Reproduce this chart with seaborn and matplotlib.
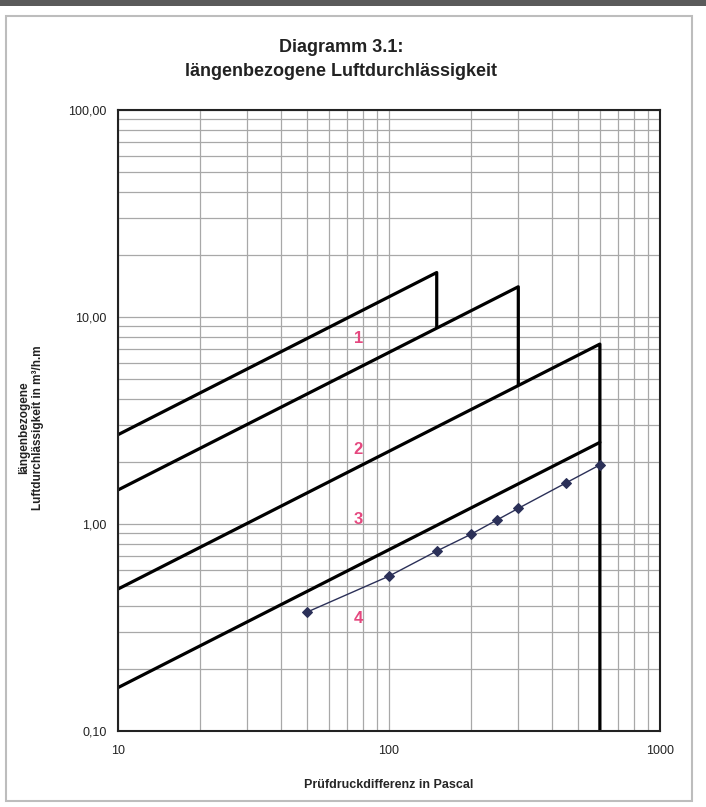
import matplotlib
matplotlib.use("Agg")
import matplotlib.pyplot as plt
import matplotlib.ticker as mticker
from matplotlib.patches import Rectangle
import numpy as np
import pandas as pd
import seaborn as sns

sns.set_theme(style="white")
plt.rcParams["font.family"] = ["Liberation Sans", "DejaVu Sans"]

# class boundary lines (endpoints)
class_names = ["1", "2", "3", "4"]
class_x = [[10, 150, 150], [10, 300, 300], [10, 600, 600], [10, 600]]
class_y = [[2.7, 16.4, 8.9], [1.46, 14.0, 4.7], [0.485, 7.4, 0.1], [0.162, 2.48]]

# class label positions
label_x = [77, 77, 77, 77]
label_y = [7.9, 2.28, 1.05, 0.35]

# measured series
pressure = [50, 100, 150, 200, 250, 300, 450, 600]
leakage = [0.376, 0.56, 0.74, 0.89, 1.045, 1.19, 1.58, 1.93]

y_ticks = [0.1, 1, 10, 100]
y_ticklabels = ["0,10", "1,00", "10,00", "100,00"]
x_ticks = [10, 100, 1000]
x_ticklabels = ["10", "100", "1000"]

rows = []
for name, xs, ys in zip(class_names, class_x, class_y):
    for i, (x, y) in enumerate(zip(xs, ys)):
        rows.append({"cls": name, "order": i, "x": x, "y": y})
df_cls = pd.DataFrame(rows)
df_meas = pd.DataFrame({"x": pressure, "y": leakage})

fig = plt.figure(figsize=(7.06, 8.07), dpi=100)
ax = fig.add_axes([118 / 706, 1 - 731 / 807, 542 / 706, 621 / 807])

ax.set_xscale("log")
ax.set_yscale("log")
ax.set_xlim(10, 1000)
ax.set_ylim(0.1, 100)

ax.grid(True, which="both", color="#a8a8a8", linewidth=0.9)
ax.set_axisbelow(True)

sns.lineplot(data=df_cls, x="x", y="y", hue="cls", units="cls", estimator=None,
             sort=False, palette=["black"] * 4, linewidth=2.3, legend=False, ax=ax)
sns.lineplot(data=df_meas, x="x", y="y", color="#2b3058", linewidth=1.0,
             marker="D", markersize=5, markeredgecolor="#2b3058", legend=False, ax=ax)

for name, lx, ly in zip(class_names, label_x, label_y):
    ax.text(lx, ly, name, color="#e5487f", fontsize=12, fontweight="bold",
            ha="center", va="center")

ax.xaxis.set_major_locator(mticker.FixedLocator(x_ticks))
ax.xaxis.set_major_formatter(mticker.FixedFormatter(x_ticklabels))
ax.yaxis.set_major_locator(mticker.FixedLocator(y_ticks))
ax.yaxis.set_major_formatter(mticker.FixedFormatter(y_ticklabels))
ax.xaxis.set_minor_locator(mticker.LogLocator(base=10, subs=np.arange(2, 10)))
ax.yaxis.set_minor_locator(mticker.LogLocator(base=10, subs=np.arange(2, 10)))
ax.xaxis.set_minor_formatter(mticker.NullFormatter())
ax.yaxis.set_minor_formatter(mticker.NullFormatter())
ax.tick_params(axis="both", which="both", length=0, labelsize=9, colors="#222222")
ax.tick_params(axis="x", pad=10)
ax.tick_params(axis="y", pad=8)

for sp in ax.spines.values():
    sp.set_color("#222222")
    sp.set_linewidth(1.5)

ax.set_xlabel("Prüfdruckdifferenz in Pascal", fontsize=9, fontweight="bold", labelpad=16)
ax.set_ylabel("")
fig.text(31 / 706, 1 - 428 / 807, "längenbezogene\nLuftdurchlässigkeit in m³/h.m",
         rotation=90, ha="center", va="center", multialignment="center",
         fontsize=8.5, fontweight="bold", color="#222222")

fig.text(0.483, 1 - 48 / 807, "Diagramm 3.1:", ha="center", va="center",
         fontsize=13, fontweight="bold", color="#222222")
fig.text(0.483, 1 - 72 / 807, "längenbezogene Luftdurchlässigkeit", ha="center",
         va="center", fontsize=13, fontweight="bold", color="#222222")

# outer frame
fig.patches.append(Rectangle((6 / 706, 6 / 807), 686 / 706, 785 / 807,
                             transform=fig.transFigure, fill=False,
                             edgecolor="#bdbdbd", linewidth=1.5))
fig.patches.append(Rectangle((0, 1 - 6 / 807), 1, 6 / 807, transform=fig.transFigure,
                             facecolor="#5a5a5a", edgecolor="none"))

fig.savefig("out.png", dpi=100)
